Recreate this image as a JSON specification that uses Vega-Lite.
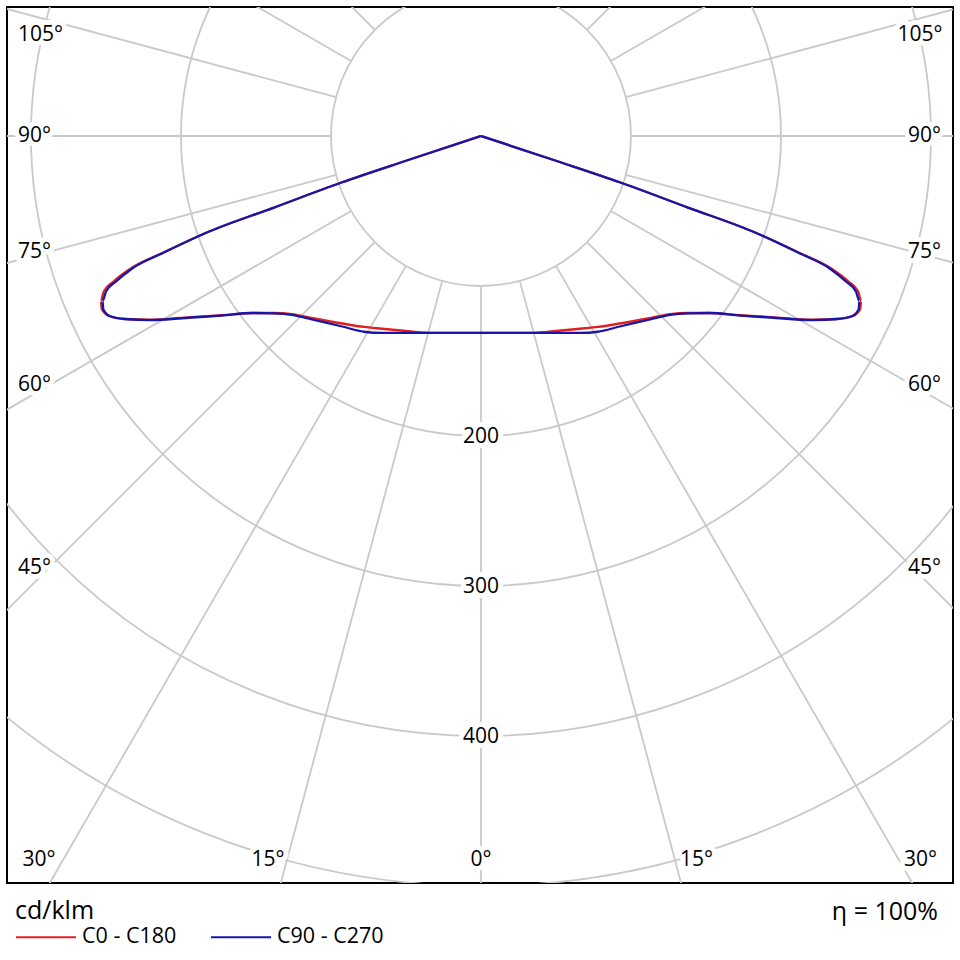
{
  "$schema": "https://vega.github.io/schema/vega-lite/v6.json",
  "width": 946,
  "height": 876,
  "autosize": "none",
  "padding": {"left": 7, "top": 7, "right": 7, "bottom": 77},
  "config": {
    "font": "Open Sans",
    "view": {"stroke": "#000000", "strokeWidth": 2}
  },
  "encoding": {
    "x": {"field": "x", "type": "quantitative", "axis": null, "scale": {"domain": [-316, 314.7], "nice": false, "zero": false}},
    "y": {"field": "y", "type": "quantitative", "axis": null, "scale": {"domain": [-498, 86], "nice": false, "zero": false}}
  },
  "layer": [
    {
      "data": {"values": [
        {"x": 0, "y": 0, "r": 100},
        {"x": 0, "y": 0, "r": 200},
        {"x": 0, "y": 0, "r": 300},
        {"x": 0, "y": 0, "r": 400},
        {"x": 0, "y": 0, "r": 500}
      ]},
      "mark": {"type": "point", "shape": "circle", "filled": false, "stroke": "#c9c9c9", "strokeWidth": 1.8, "opacity": 1, "clip": true},
      "encoding": {
        "size": {"field": "r", "type": "quantitative", "legend": null, "scale": {"type": "pow", "exponent": 2, "domain": [0, 100], "range": [0, 90000], "nice": false}}
      }
    },
    {
      "data": {"values": [
        {"x": 0, "y": -100, "x2": 0, "y2": -600},
        {"x": -25.88, "y": -96.59, "x2": -155.29, "y2": -579.56},
        {"x": 25.88, "y": -96.59, "x2": 155.29, "y2": -579.56},
        {"x": -50, "y": -86.6, "x2": -300, "y2": -519.62},
        {"x": 50, "y": -86.6, "x2": 300, "y2": -519.62},
        {"x": -70.71, "y": -70.71, "x2": -424.26, "y2": -424.26},
        {"x": 70.71, "y": -70.71, "x2": 424.26, "y2": -424.26},
        {"x": -86.6, "y": -50, "x2": -519.62, "y2": -300},
        {"x": 86.6, "y": -50, "x2": 519.62, "y2": -300},
        {"x": -96.59, "y": -25.88, "x2": -579.56, "y2": -155.29},
        {"x": 96.59, "y": -25.88, "x2": 579.56, "y2": -155.29},
        {"x": -100, "y": 0, "x2": -600, "y2": 0},
        {"x": 100, "y": 0, "x2": 600, "y2": 0},
        {"x": -96.59, "y": 25.88, "x2": -579.56, "y2": 155.29},
        {"x": 96.59, "y": 25.88, "x2": 579.56, "y2": 155.29},
        {"x": -86.6, "y": 50, "x2": -519.62, "y2": 300},
        {"x": 86.6, "y": 50, "x2": 519.62, "y2": 300},
        {"x": -70.71, "y": 70.71, "x2": -424.26, "y2": 424.26},
        {"x": 70.71, "y": 70.71, "x2": 424.26, "y2": 424.26},
        {"x": -50, "y": 86.6, "x2": -300, "y2": 519.62},
        {"x": 50, "y": 86.6, "x2": 300, "y2": 519.62},
        {"x": -25.88, "y": 96.59, "x2": -155.29, "y2": 579.56},
        {"x": 25.88, "y": 96.59, "x2": 155.29, "y2": 579.56},
        {"x": 0, "y": 100, "x2": 0, "y2": 600}
      ]},
      "mark": {"type": "rule", "stroke": "#c9c9c9", "strokeWidth": 1.8, "clip": true},
      "encoding": {
        "x2": {"field": "x2"},
        "y2": {"field": "y2"}
      }
    },
    {
      "data": {"values": [
        {"x": -293.7, "y": 67.3, "t": "105°"},
        {"x": 292.7, "y": 67.3, "t": "105°"},
        {"x": -297.7, "y": 0, "t": "90°"},
        {"x": 295.7, "y": 0, "t": "90°"},
        {"x": -297.7, "y": -77, "t": "75°"},
        {"x": 295.7, "y": -77, "t": "75°"},
        {"x": -297.7, "y": -166.3, "t": "60°"},
        {"x": 295.7, "y": -166.3, "t": "60°"},
        {"x": -297.7, "y": -288.3, "t": "45°"},
        {"x": 295.7, "y": -288, "t": "45°"},
        {"x": -294.7, "y": -482.5, "t": "30°"},
        {"x": -142, "y": -482.5, "t": "15°"},
        {"x": 0, "y": -482.5, "t": "0°"},
        {"x": 143.7, "y": -482.5, "t": "15°"},
        {"x": 293, "y": -482.5, "t": "30°"},
        {"x": 0, "y": -200.7, "t": "200"},
        {"x": 0, "y": -300.7, "t": "300"},
        {"x": 0, "y": -400.7, "t": "400"}
      ]},
      "layer": [
        {
          "mark": {"type": "text", "fontSize": 21, "align": "center", "baseline": "middle", "fill": "#ffffff", "stroke": "#ffffff", "strokeWidth": 10, "strokeJoin": "round"},
          "encoding": {"text": {"field": "t"}}
        },
        {
          "mark": {"type": "text", "fontSize": 21, "align": "center", "baseline": "middle", "fill": "#000000"},
          "encoding": {"text": {"field": "t"}}
        }
      ]
    },
    {
      "data": {"values": [
        {"x": 304.7, "y": -517.3, "t": "η = 100%"}
      ]},
      "mark": {"type": "text", "fontSize": 25, "align": "right", "baseline": "middle", "fill": "#000000"},
      "encoding": {"text": {"field": "t"}}
    },
    {
      "data": {"values": [
        {"series": "C0 - C180", "i": 0, "x": 0, "y": 0},
        {"series": "C0 - C180", "i": 1, "x": -50, "y": -16.5},
        {"series": "C0 - C180", "i": 2, "x": -93, "y": -31},
        {"series": "C0 - C180", "i": 3, "x": -138, "y": -47.7},
        {"series": "C0 - C180", "i": 4, "x": -182, "y": -64},
        {"series": "C0 - C180", "i": 5, "x": -212.5, "y": -78},
        {"series": "C0 - C180", "i": 6, "x": -233.5, "y": -88.3},
        {"series": "C0 - C180", "i": 7, "x": -245, "y": -97},
        {"series": "C0 - C180", "i": 8, "x": -251.5, "y": -103.7},
        {"series": "C0 - C180", "i": 9, "x": -253.5, "y": -110},
        {"series": "C0 - C180", "i": 10, "x": -252.8, "y": -115.5},
        {"series": "C0 - C180", "i": 11, "x": -248, "y": -120},
        {"series": "C0 - C180", "i": 12, "x": -237.5, "y": -122},
        {"series": "C0 - C180", "i": 13, "x": -221, "y": -122.5},
        {"series": "C0 - C180", "i": 14, "x": -193, "y": -120.7},
        {"series": "C0 - C180", "i": 15, "x": -173, "y": -119.5},
        {"series": "C0 - C180", "i": 16, "x": -152, "y": -118},
        {"series": "C0 - C180", "i": 17, "x": -138, "y": -118},
        {"series": "C0 - C180", "i": 18, "x": -126, "y": -118.8},
        {"series": "C0 - C180", "i": 19, "x": -112, "y": -121.5},
        {"series": "C0 - C180", "i": 20, "x": -92.5, "y": -125},
        {"series": "C0 - C180", "i": 21, "x": -78, "y": -127.3},
        {"series": "C0 - C180", "i": 22, "x": -66, "y": -128.5},
        {"series": "C0 - C180", "i": 23, "x": -50, "y": -130},
        {"series": "C0 - C180", "i": 24, "x": -35, "y": -131.2},
        {"series": "C0 - C180", "i": 25, "x": 0, "y": -131.3},
        {"series": "C0 - C180", "i": 26, "x": 35, "y": -131.2},
        {"series": "C0 - C180", "i": 27, "x": 50, "y": -130},
        {"series": "C0 - C180", "i": 28, "x": 66, "y": -128.5},
        {"series": "C0 - C180", "i": 29, "x": 78, "y": -127.3},
        {"series": "C0 - C180", "i": 30, "x": 92.5, "y": -125},
        {"series": "C0 - C180", "i": 31, "x": 112, "y": -121.5},
        {"series": "C0 - C180", "i": 32, "x": 126, "y": -118.8},
        {"series": "C0 - C180", "i": 33, "x": 138, "y": -118},
        {"series": "C0 - C180", "i": 34, "x": 152, "y": -118},
        {"series": "C0 - C180", "i": 35, "x": 173, "y": -119.5},
        {"series": "C0 - C180", "i": 36, "x": 193, "y": -120.7},
        {"series": "C0 - C180", "i": 37, "x": 221, "y": -122.5},
        {"series": "C0 - C180", "i": 38, "x": 237.5, "y": -122},
        {"series": "C0 - C180", "i": 39, "x": 248, "y": -120},
        {"series": "C0 - C180", "i": 40, "x": 252.8, "y": -115.5},
        {"series": "C0 - C180", "i": 41, "x": 253.5, "y": -110},
        {"series": "C0 - C180", "i": 42, "x": 251.5, "y": -103.7},
        {"series": "C0 - C180", "i": 43, "x": 245, "y": -97},
        {"series": "C0 - C180", "i": 44, "x": 233.5, "y": -88.3},
        {"series": "C0 - C180", "i": 45, "x": 212.5, "y": -78},
        {"series": "C0 - C180", "i": 46, "x": 182, "y": -64},
        {"series": "C0 - C180", "i": 47, "x": 138, "y": -47.7},
        {"series": "C0 - C180", "i": 48, "x": 93, "y": -31},
        {"series": "C0 - C180", "i": 49, "x": 50, "y": -16.5},
        {"series": "C0 - C180", "i": 50, "x": 0, "y": 0},
        {"series": "C90 - C270", "i": 0, "x": 0, "y": 0},
        {"series": "C90 - C270", "i": 1, "x": -50, "y": -16.5},
        {"series": "C90 - C270", "i": 2, "x": -93, "y": -31},
        {"series": "C90 - C270", "i": 3, "x": -138, "y": -47.7},
        {"series": "C90 - C270", "i": 4, "x": -182, "y": -64},
        {"series": "C90 - C270", "i": 5, "x": -212, "y": -78},
        {"series": "C90 - C270", "i": 6, "x": -232.5, "y": -88.3},
        {"series": "C90 - C270", "i": 7, "x": -243.3, "y": -97},
        {"series": "C90 - C270", "i": 8, "x": -250, "y": -103.7},
        {"series": "C90 - C270", "i": 9, "x": -252.3, "y": -110},
        {"series": "C90 - C270", "i": 10, "x": -251.8, "y": -115.5},
        {"series": "C90 - C270", "i": 11, "x": -247.5, "y": -120},
        {"series": "C90 - C270", "i": 12, "x": -237.5, "y": -122},
        {"series": "C90 - C270", "i": 13, "x": -221, "y": -122.7},
        {"series": "C90 - C270", "i": 14, "x": -193, "y": -121},
        {"series": "C90 - C270", "i": 15, "x": -173, "y": -119.7},
        {"series": "C90 - C270", "i": 16, "x": -152, "y": -118},
        {"series": "C90 - C270", "i": 17, "x": -138, "y": -118.2},
        {"series": "C90 - C270", "i": 18, "x": -126, "y": -119.2},
        {"series": "C90 - C270", "i": 19, "x": -112, "y": -122.5},
        {"series": "C90 - C270", "i": 20, "x": -92.5, "y": -127},
        {"series": "C90 - C270", "i": 21, "x": -78, "y": -130.5},
        {"series": "C90 - C270", "i": 22, "x": -66, "y": -131.3},
        {"series": "C90 - C270", "i": 23, "x": -44, "y": -131.3},
        {"series": "C90 - C270", "i": 24, "x": 0, "y": -131.3},
        {"series": "C90 - C270", "i": 25, "x": 44, "y": -131.3},
        {"series": "C90 - C270", "i": 26, "x": 66, "y": -131.3},
        {"series": "C90 - C270", "i": 27, "x": 78, "y": -130.5},
        {"series": "C90 - C270", "i": 28, "x": 92.5, "y": -127},
        {"series": "C90 - C270", "i": 29, "x": 112, "y": -122.5},
        {"series": "C90 - C270", "i": 30, "x": 126, "y": -119.2},
        {"series": "C90 - C270", "i": 31, "x": 138, "y": -118.2},
        {"series": "C90 - C270", "i": 32, "x": 152, "y": -118},
        {"series": "C90 - C270", "i": 33, "x": 173, "y": -119.7},
        {"series": "C90 - C270", "i": 34, "x": 193, "y": -121},
        {"series": "C90 - C270", "i": 35, "x": 221, "y": -122.7},
        {"series": "C90 - C270", "i": 36, "x": 237.5, "y": -122},
        {"series": "C90 - C270", "i": 37, "x": 247.5, "y": -120},
        {"series": "C90 - C270", "i": 38, "x": 251.8, "y": -115.5},
        {"series": "C90 - C270", "i": 39, "x": 252.3, "y": -110},
        {"series": "C90 - C270", "i": 40, "x": 250, "y": -103.7},
        {"series": "C90 - C270", "i": 41, "x": 243.3, "y": -97},
        {"series": "C90 - C270", "i": 42, "x": 232.5, "y": -88.3},
        {"series": "C90 - C270", "i": 43, "x": 212, "y": -78},
        {"series": "C90 - C270", "i": 44, "x": 182, "y": -64},
        {"series": "C90 - C270", "i": 45, "x": 138, "y": -47.7},
        {"series": "C90 - C270", "i": 46, "x": 93, "y": -31},
        {"series": "C90 - C270", "i": 47, "x": 50, "y": -16.5},
        {"series": "C90 - C270", "i": 48, "x": 0, "y": 0}
      ]},
      "mark": {"type": "line", "strokeWidth": 2.3, "interpolate": "monotone", "clip": true},
      "encoding": {
        "order": {"field": "i", "type": "quantitative"},
        "color": {
          "field": "series",
          "type": "nominal",
          "scale": {"domain": ["C0 - C180", "C90 - C270"], "range": ["#e02020", "#1616aa"]},
          "legend": {
            "title": "cd/klm",
            "orient": "none",
            "legendX": 8,
            "legendY": 892,
            "direction": "horizontal",
            "padding": 0,
            "symbolType": "stroke",
            "symbolSize": 3600,
            "symbolStrokeWidth": 2,
            "labelFontSize": 21.5,
            "labelColor": "#000000",
            "labelOffset": 5,
            "columnPadding": 30,
            "titleFontSize": 25,
            "titleFontWeight": "normal",
            "titleColor": "#000000",
            "titlePadding": -18
          }
        }
      }
    }
  ]
}
